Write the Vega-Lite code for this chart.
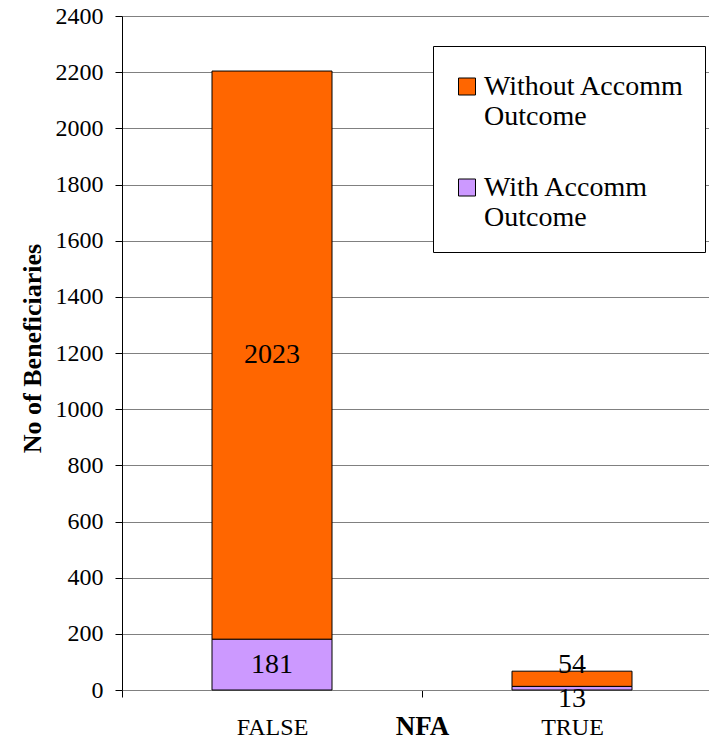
{
  "$schema": "https://vega.github.io/schema/vega-lite/v6.json",
  "autosize": "none",
  "padding": {"left": 122, "top": 16, "right": 0, "bottom": 49},
  "width": 600,
  "height": 674,
  "background": "white",
  "config": {
    "view": {"stroke": null},
    "font": "Liberation Serif",
    "axis": {"labelFont": "Liberation Serif", "titleFont": "Liberation Serif"},
    "legend": {"labelFont": "Liberation Serif", "titleFont": "Liberation Serif"}
  },
  "data": {
    "values": [
      {"NFA": "FALSE", "Outcome": "With Accomm Outcome", "Count": 181},
      {"NFA": "FALSE", "Outcome": "Without Accomm Outcome", "Count": 2023},
      {"NFA": "TRUE", "Outcome": "With Accomm Outcome", "Count": 13},
      {"NFA": "TRUE", "Outcome": "Without Accomm Outcome", "Count": 54}
    ]
  },
  "transform": [
    {"stack": "Count", "groupby": ["NFA"], "sort": [{"field": "Outcome", "order": "ascending"}], "as": ["v0", "v1"]},
    {"calculate": "(datum.v0 + datum.v1) / 2", "as": "mid"}
  ],
  "encoding": {
    "x": {
      "field": "NFA",
      "type": "nominal",
      "sort": ["FALSE", "TRUE"],
      "scale": {"paddingInner": 0, "paddingOuter": 0},
      "axis": {
        "title": "NFA",
        "titleFont": "Liberation Serif",
        "titleFontSize": 27,
        "titleFontWeight": "bold",
        "titleColor": "black",
        "titleBaseline": "alphabetic",
        "titleY": 44,
        "labelAngle": 0,
        "labelFont": "Liberation Serif",
        "labelFontSize": 24,
        "labelColor": "black",
        "labelBaseline": "alphabetic",
        "labelPadding": 37,
        "tickOffset": -150,
        "labelOffset": 150,
        "tickSize": 7,
        "tickColor": "black",
        "domainColor": "#808080",
        "grid": false
      }
    }
  },
  "layer": [
    {
      "mark": {"type": "bar", "size": 120, "stroke": "black", "strokeWidth": 1},
      "encoding": {
        "y": {
          "field": "v0",
          "type": "quantitative",
          "scale": {"domain": [0, 2400], "nice": false},
          "axis": {
            "title": "No of Beneficiaries",
            "titleFont": "Liberation Serif",
            "titleFontSize": 26,
            "titleFontWeight": "bold",
            "titleColor": "black",
            "titleX": -90,
            "titleY": 332,
            "titleBaseline": "middle",
            "values": [0, 200, 400, 600, 800, 1000, 1200, 1400, 1600, 1800, 2000, 2200, 2400],
            "format": "d",
            "labelFont": "Liberation Serif",
            "labelFontSize": 24,
            "labelColor": "black",
            "labelPadding": 12,
            "tickSize": 7,
            "tickColor": "black",
            "domainColor": "black",
            "gridColor": "#808080",
            "gridOpacity": 1
          }
        },
        "y2": {"field": "v1"},
        "color": {
          "field": "Outcome",
          "type": "nominal",
          "scale": {
            "domain": ["Without Accomm Outcome", "With Accomm Outcome"],
            "range": ["#FF6600", "#CC99FF"]
          },
          "legend": {
            "title": " ",
            "titleFontSize": 10,
            "titlePadding": 5,
            "orient": "none",
            "legendX": 311,
            "legendY": 30,
            "padding": 20,
            "fillColor": "white",
            "strokeColor": "black",
            "symbolType": "M-1,-2H1V0H-1Z",
            "symbolSize": 289,
            "symbolStrokeColor": "black",
            "symbolStrokeWidth": 1,
            "symbolOpacity": 1,
            "labelFont": "Liberation Serif",
            "labelFontSize": 28,
            "labelColor": "black",
            "labelLimit": 400,
            "labelOffset": 3,
            "labelBaseline": "alphabetic",
            "rowPadding": 43,
            "labelExpr": "datum.label == 'Without Accomm Outcome' ? ['Without Accomm', 'Outcome'] : ['With Accomm', 'Outcome']"
          }
        }
      }
    },
    {
      "transform": [{"filter": "datum.NFA == 'FALSE'"}],
      "mark": {"type": "text", "baseline": "middle", "fontSize": 28, "font": "Liberation Serif", "color": "black"},
      "encoding": {
        "y": {"field": "mid", "type": "quantitative"},
        "text": {"field": "Count", "type": "quantitative"}
      }
    },
    {
      "transform": [{"filter": "datum.NFA == 'TRUE' && datum.Outcome == 'Without Accomm Outcome'"}],
      "mark": {"type": "text", "baseline": "alphabetic", "dy": 2, "fontSize": 28, "font": "Liberation Serif", "color": "black"},
      "encoding": {
        "y": {"field": "v1", "type": "quantitative"},
        "text": {"field": "Count", "type": "quantitative"}
      }
    },
    {
      "transform": [{"filter": "datum.NFA == 'TRUE' && datum.Outcome == 'With Accomm Outcome'"}],
      "mark": {"type": "text", "baseline": "alphabetic", "dy": 17, "fontSize": 28, "font": "Liberation Serif", "color": "black"},
      "encoding": {
        "y": {"field": "v0", "type": "quantitative"},
        "text": {"field": "Count", "type": "quantitative"}
      }
    }
  ]
}
